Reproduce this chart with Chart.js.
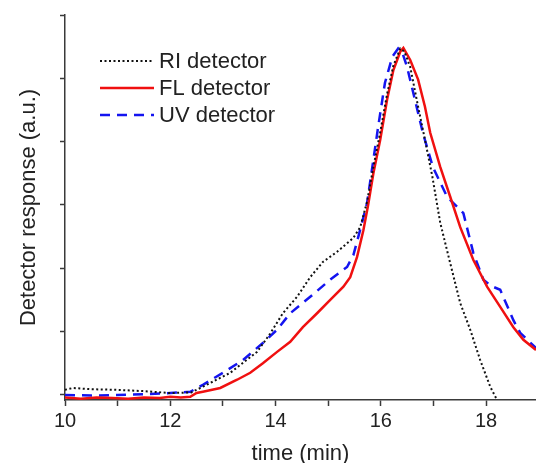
<!DOCTYPE html>
<html>
<head>
<meta charset="utf-8">
<script src="https://cdn.jsdelivr.net/npm/chart.js@4/dist/chart.umd.min.js"></script>
<style>
  html, body { margin: 0; padding: 0; background: #fff; }
  #wrap { width: 536px; height: 463px; }
</style>
</head>
<body>
<div id="wrap"><canvas id="chromChart" width="536" height="463"></canvas></div>
<script>
// RI detector (black dotted)
const riTime = [10.0, 10.15, 10.5, 11.0, 11.5, 12.0, 12.4, 12.62, 13.14, 13.65, 13.9, 14.14, 14.41, 14.66, 14.9, 15.17, 15.48, 15.61, 15.74, 15.86, 15.99, 16.12, 16.24, 16.37, 16.45, 16.56, 16.71, 16.84, 16.98, 17.13, 17.32, 17.51, 17.7, 17.89, 18.08, 18.21];
const riValues = [0.08, 0.11, 0.09, 0.08, 0.06, 0.03, 0.04, 0.13, 0.35, 0.68, 0.97, 1.29, 1.55, 1.86, 2.1, 2.26, 2.48, 2.65, 3.05, 3.6, 4.15, 4.75, 5.2, 5.47, 5.42, 5.18, 4.55, 4.03, 3.45, 2.72, 2.08, 1.45, 1.03, 0.55, 0.13, -0.08];

// FL detector (red solid)
const flTime = [10.0, 10.3, 10.6, 10.9, 11.2, 11.5, 11.8, 12.0, 12.2, 12.38, 12.5, 12.62, 12.95, 13.27, 13.52, 13.76, 14.03, 14.28, 14.52, 14.79, 15.04, 15.29, 15.42, 15.55, 15.67, 15.76, 15.86, 15.99, 16.12, 16.24, 16.37, 16.43, 16.56, 16.71, 16.84, 16.94, 17.13, 17.32, 17.51, 17.76, 18.02, 18.27, 18.52, 18.71, 18.95];
const flValues = [-0.04, -0.06, -0.04, -0.05, -0.06, -0.04, -0.05, -0.03, -0.04, -0.03, 0.03, 0.05, 0.11, 0.24, 0.35, 0.5, 0.68, 0.84, 1.07, 1.29, 1.5, 1.71, 1.86, 2.18, 2.6, 3.0, 3.5, 4.03, 4.66, 5.13, 5.42, 5.48, 5.29, 4.98, 4.55, 4.14, 3.6, 3.13, 2.65, 2.13, 1.71, 1.39, 1.07, 0.87, 0.71];

// UV detector (blue dashed)
const uvTime = [10.0, 10.5, 11.0, 11.5, 12.0, 12.38, 12.62, 13.0, 13.38, 13.76, 14.03, 14.28, 14.66, 15.04, 15.36, 15.48, 15.61, 15.74, 15.84, 15.95, 16.08, 16.22, 16.33, 16.42, 16.5, 16.65, 16.8, 16.99, 17.26, 17.38, 17.57, 17.76, 17.95, 18.1, 18.27, 18.52, 18.65, 18.95];
const uvValues = [0.0, -0.01, 0.0, 0.01, 0.03, 0.05, 0.16, 0.35, 0.55, 0.82, 1.03, 1.29, 1.55, 1.82, 2.02, 2.21, 2.61, 3.03, 3.6, 4.23, 4.93, 5.34, 5.47, 5.38, 5.18, 4.66, 4.14, 3.6, 3.13, 3.03, 2.87, 2.24, 1.82, 1.72, 1.66, 1.18, 0.98, 0.74];

const xLabels = [10, 12, 14, 16, 18];
const seriesNames = ["RI detector", "FL detector", "UV detector"];

const FONT = "'Liberation Sans', Arial, sans-serif";
const AXIS = "#3a3a3a";

function toPoints(ts, vs) {
  return ts.map((t, i) => ({ x: t, y: vs[i] }));
}

// legend drawn inside the plot, top left
const insideLegend = {
  id: "insideLegend",
  afterDraw(chart) {
    const ctx = chart.ctx;
    const rows = [61, 88, 115];
    ctx.save();
    chart.data.datasets.forEach((ds, i) => {
      const y = rows[i];
      ctx.beginPath();
      ctx.strokeStyle = ds.borderColor;
      ctx.lineWidth = ds.borderWidth;
      ctx.setLineDash(ds.borderDash || []);
      ctx.moveTo(100, y);
      ctx.lineTo(154, y);
      ctx.stroke();
      ctx.setLineDash([]);
      ctx.fillStyle = "#222";
      ctx.font = "22px " + FONT;
      ctx.textBaseline = "middle";
      ctx.fillText(ds.label, 159, y + 1);
    });
    ctx.restore();
  }
};

new Chart(document.getElementById("chromChart"), {
  type: "line",
  data: {
    datasets: [
      {
        label: seriesNames[0],
        data: toPoints(riTime, riValues),
        borderColor: "#111",
        borderWidth: 2,
        borderDash: [2, 2.5],
        pointRadius: 0,
        tension: 0
      },
      {
        label: seriesNames[1],
        data: toPoints(flTime, flValues),
        borderColor: "#f01010",
        borderWidth: 2.5,
        pointRadius: 0,
        tension: 0
      },
      {
        label: seriesNames[2],
        data: toPoints(uvTime, uvValues),
        borderColor: "#1414f0",
        borderWidth: 2.5,
        borderDash: [10, 7],
        pointRadius: 0,
        tension: 0
      }
    ]
  },
  options: {
    responsive: false,
    animation: false,
    layout: { padding: { top: 15, right: 0, left: 0, bottom: 0 } },
    plugins: {
      legend: { display: false },
      tooltip: { enabled: false }
    },
    scales: {
      x: {
        type: "linear",
        min: 10,
        max: 18.95,
        afterFit(scale) { scale.height = 63; },
        border: { color: AXIS, width: 1.5 },
        grid: { drawOnChartArea: false, drawTicks: true, tickLength: 6, tickColor: AXIS, tickWidth: 1.5 },
        ticks: {
          stepSize: 1,
          includeBounds: false,
          autoSkip: false,
          maxRotation: 0,
          padding: 3,
          color: "#222",
          font: { family: FONT, size: 20 },
          callback: v => xLabels.includes(v) ? String(v) : ""
        },
        title: {
          display: true,
          text: "time (min)",
          color: "#222",
          font: { family: FONT, size: 22, lineHeight: 0.8 },
          padding: { top: 0, bottom: 0 }
        }
      },
      y: {
        type: "linear",
        min: -0.08,
        max: 6,
        afterFit(scale) { scale.width = 65; },
        border: { color: AXIS, width: 1.5 },
        grid: { drawOnChartArea: false, drawTicks: true, tickLength: 5, tickColor: AXIS, tickWidth: 1.5 },
        ticks: {
          stepSize: 1,
          includeBounds: false,
          callback: () => ""
        },
        title: {
          display: true,
          text: "Detector response (a.u.)",
          color: "#222",
          font: { family: FONT, size: 22, lineHeight: 1 },
          padding: { top: 18, bottom: 0 }
        }
      }
    }
  },
  plugins: [insideLegend]
});
</script>
</body>
</html>
